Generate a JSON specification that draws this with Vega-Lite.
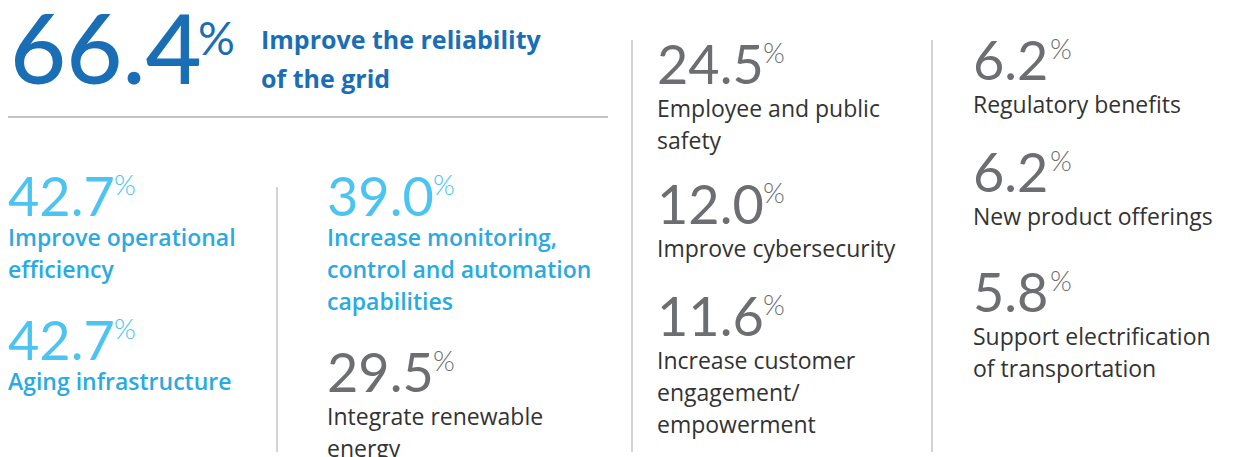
{
  "$schema": "https://vega.github.io/schema/vega-lite/v6.json",
  "width": 1234,
  "height": 457,
  "padding": 0,
  "autosize": {"type": "none"},
  "background": "white",
  "config": {"view": {"stroke": null}},
  "datasets": {
    "items": [
      {"value": 66.4, "label": "Improve the reliability\nof the grid", "tier": "hero", "column": 1, "line": 2.625},
      {"value": 42.7, "label": "Improve operational\nefficiency", "tier": "primary", "column": 1, "line": 6.75},
      {"value": 42.7, "label": "Aging infrastructure", "tier": "primary", "column": 1, "line": 11.25},
      {"value": 39.0, "label": "Increase monitoring,\ncontrol and automation\ncapabilities", "tier": "primary", "column": 2, "line": 6.75},
      {"value": 29.5, "label": "Integrate renewable\nenergy", "tier": "secondary", "column": 2, "line": 12.25},
      {"value": 24.5, "label": "Employee and public\nsafety", "tier": "secondary", "column": 3, "line": 2.625},
      {"value": 12.0, "label": "Improve cybersecurity", "tier": "secondary", "column": 3, "line": 7.0},
      {"value": 11.6, "label": "Increase customer\nengagement/\nempowerment", "tier": "secondary", "column": 3, "line": 10.5},
      {"value": 6.2, "label": "Regulatory benefits", "tier": "secondary", "column": 4, "line": 2.5},
      {"value": 6.2, "label": "New product offerings", "tier": "secondary", "column": 4, "line": 6.0},
      {"value": 5.8, "label": "Support electrification\nof transportation", "tier": "secondary", "column": 4, "line": 9.75}
    ],
    "dividers": [
      {"column": 1.5, "from": 5.84, "to": 14.125},
      {"column": 2.5, "from": 1.25, "to": 14.125},
      {"column": 3.5, "from": 1.25, "to": 14.125}
    ],
    "underline": [
      {"column": 1, "column_end": 2.5, "line": 3.66}
    ]
  },
  "layer": [
    {
      "data": {"name": "dividers"},
      "mark": {"type": "rule", "color": "#c4c4c4", "strokeWidth": 1.5},
      "encoding": {
        "x": {"field": "column", "type": "quantitative", "axis": null, "scale": {"domain": [1, 1.5, 2, 2.5, 3, 3.5, 4], "range": [8, 277, 327, 632, 657, 932, 973], "nice": false, "zero": false}},
        "y": {"field": "from", "type": "quantitative", "axis": null, "scale": {"domain": [0, 14.28125], "range": [0, 457], "nice": false, "zero": false}},
        "y2": {"field": "to"}
      }
    },
    {
      "data": {"name": "underline"},
      "mark": {"type": "rule", "color": "#b0b0b0", "strokeWidth": 1.5, "x2Offset": -24},
      "encoding": {
        "x": {"field": "column", "type": "quantitative"},
        "x2": {"field": "column_end"},
        "y": {"field": "line", "type": "quantitative"}
      }
    },
    {
      "data": {"name": "items"},
      "transform": [{"filter": "datum.tier === 'hero'"}],
      "mark": {"type": "text", "align": "left", "baseline": "alphabetic", "font": "Lato", "fontWeight": 500, "fontSize": 97, "color": "#1a6eb5", "dx": 2},
      "encoding": {
        "x": {"field": "column", "type": "quantitative"},
        "y": {"field": "line", "type": "quantitative"},
        "text": {"field": "value", "type": "quantitative", "format": ".1f"}
      }
    },
    {
      "data": {"name": "items"},
      "transform": [{"filter": "datum.tier === 'hero'"}],
      "mark": {"type": "text", "text": "%", "align": "left", "baseline": "alphabetic", "font": "Lato", "fontWeight": 400, "fontSize": 46, "color": "#1a6eb5", "dx": 190, "dy": -29},
      "encoding": {
        "x": {"field": "column", "type": "quantitative"},
        "y": {"field": "line", "type": "quantitative"}
      }
    },
    {
      "data": {"name": "items"},
      "transform": [{"filter": "datum.tier === 'hero'"}],
      "mark": {"type": "text", "align": "left", "baseline": "alphabetic", "font": "Open Sans", "fontWeight": 700, "fontSize": 25, "color": "#1a6eb5", "dx": 253, "dy": -35, "lineBreak": "\n", "lineHeight": 39},
      "encoding": {
        "x": {"field": "column", "type": "quantitative"},
        "y": {"field": "line", "type": "quantitative"},
        "text": {"field": "label", "type": "nominal"}
      }
    },
    {
      "data": {"name": "items"},
      "transform": [{"filter": "datum.tier !== 'hero'"}],
      "mark": {"type": "text", "align": "left", "baseline": "alphabetic", "font": "Lato", "fontWeight": 400, "fontSize": 54},
      "encoding": {
        "x": {"field": "column", "type": "quantitative"},
        "y": {"field": "line", "type": "quantitative"},
        "text": {"field": "value", "type": "quantitative", "format": ".1f"},
        "color": {"field": "tier", "type": "nominal", "legend": null, "scale": {"domain": ["primary", "secondary"], "range": ["#4cc4f1", "#6d6e71"]}}
      }
    },
    {
      "data": {"name": "items"},
      "transform": [{"filter": "datum.tier !== 'hero' && datum.value >= 10"}],
      "mark": {"type": "text", "text": "%", "align": "left", "baseline": "alphabetic", "font": "Lato", "fontWeight": 300, "fontSize": 28, "dx": 106, "dy": -21},
      "encoding": {
        "x": {"field": "column", "type": "quantitative"},
        "y": {"field": "line", "type": "quantitative"},
        "color": {"field": "tier", "type": "nominal", "legend": null}
      }
    },
    {
      "data": {"name": "items"},
      "transform": [{"filter": "datum.value < 10"}],
      "mark": {"type": "text", "text": "%", "align": "left", "baseline": "alphabetic", "font": "Lato", "fontWeight": 300, "fontSize": 28, "dx": 77, "dy": -21},
      "encoding": {
        "x": {"field": "column", "type": "quantitative"},
        "y": {"field": "line", "type": "quantitative"},
        "color": {"field": "tier", "type": "nominal", "legend": null}
      }
    },
    {
      "data": {"name": "items"},
      "transform": [{"filter": "datum.tier === 'primary'"}],
      "mark": {"type": "text", "align": "left", "baseline": "alphabetic", "font": "Open Sans", "fontWeight": 600, "fontSize": 23, "color": "#2aaae2", "dy": 30, "lineBreak": "\n", "lineHeight": 32},
      "encoding": {
        "x": {"field": "column", "type": "quantitative"},
        "y": {"field": "line", "type": "quantitative"},
        "text": {"field": "label", "type": "nominal"}
      }
    },
    {
      "data": {"name": "items"},
      "transform": [{"filter": "datum.tier === 'secondary'"}],
      "mark": {"type": "text", "align": "left", "baseline": "alphabetic", "font": "Open Sans", "fontWeight": 400, "fontSize": 23, "color": "#333333", "dy": 33, "lineBreak": "\n", "lineHeight": 32},
      "encoding": {
        "x": {"field": "column", "type": "quantitative"},
        "y": {"field": "line", "type": "quantitative"},
        "text": {"field": "label", "type": "nominal"}
      }
    }
  ]
}
